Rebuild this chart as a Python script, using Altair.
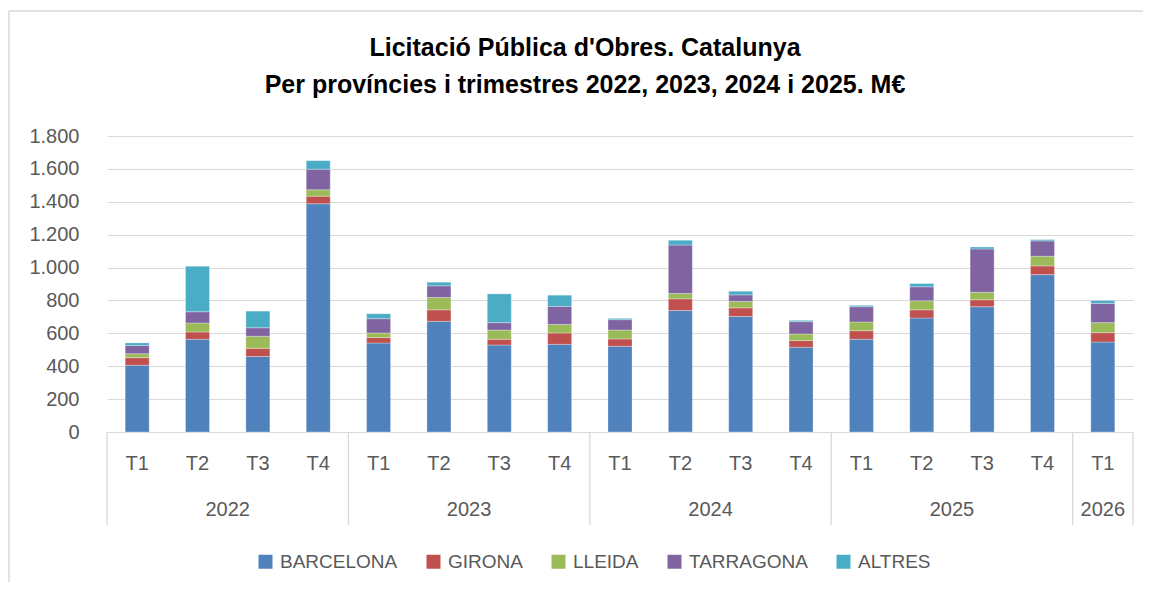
import altair as alt
import pandas as pd

years = ["2022"] * 4 + ["2023"] * 4 + ["2024"] * 4 + ["2025"] * 4 + ["2026"]
quarters = ["T1", "T2", "T3", "T4"] * 4 + ["T1"]
series = ["BARCELONA", "GIRONA", "LLEIDA", "TARRAGONA", "ALTRES"]
colors = ["#4F81BD", "#C0504D", "#9BBB59", "#8064A2", "#4BACC6"]
title_line1 = "Licitació Pública d'Obres. Catalunya"
title_line2 = "Per províncies i trimestres 2022, 2023, 2024 i 2025. M€"

barcelona = [406, 564, 459, 1388, 541, 673, 529, 533, 521, 739, 703, 515, 564, 693, 762, 957, 547]
girona = [46, 44, 50, 46, 33, 70, 35, 69, 45, 71, 52, 41, 52, 50, 42, 53, 57]
lleida = [24, 55, 73, 39, 28, 75, 56, 52, 54, 32, 39, 40, 53, 55, 46, 59, 61]
tarragona = [50, 68, 52, 125, 87, 71, 45, 110, 63, 295, 40, 75, 93, 85, 263, 93, 117]
altres = [16, 277, 101, 52, 30, 22, 175, 68, 8, 29, 22, 8, 8, 20, 12, 8, 18]

values = [barcelona, girona, lleida, tarragona, altres]

rows = []
for s_i, (name, vals) in enumerate(zip(series, values)):
    for i, v in enumerate(vals):
        rows.append({"idx": i, "year": years[i], "quarter": quarters[i],
                     "serie": name, "ord": s_i, "value": v})
df = pd.DataFrame(rows)

cats = pd.DataFrame({"idx": list(range(len(quarters))), "quarter": quarters, "year": years})
year_df = cats.groupby("year", as_index=False).agg(center=("idx", "mean"),
                                                   lo=("idx", "min"), hi=("idx", "max"))
bounds = sorted(set([r - 0.5 for r in year_df["lo"]] + [r + 0.5 for r in year_df["hi"]]))
bounds_df = pd.DataFrame({"b": bounds})

W, H = 1026, 296
FONT = "Liberation Sans"
GREY = "#595959"
n = len(quarters)
xscale = alt.Scale(domain=[-0.5, n - 0.5], nice=False, zero=False, padding=0)

bars = alt.Chart(df).mark_bar(size=24, stroke="#ffffff", strokeWidth=0.6, strokeOpacity=0.5).encode(
    x=alt.X("idx:Q", scale=xscale, axis=None),
    y=alt.Y("sum(value):Q", stack="zero",
            scale=alt.Scale(domain=[0, 1800], nice=False),
            axis=alt.Axis(values=list(range(0, 1801, 200)), title=None,
                          labelExpr="replace(format(datum.value, ','), ',', '.')",
                          grid=True, gridColor="#d9d9d9", gridWidth=1.2,
                          domain=False, ticks=False, labelPadding=28,
                          labelFont=FONT, labelFontSize=20, labelColor=GREY)),
    color=alt.Color("serie:N", scale=alt.Scale(domain=series, range=colors),
                    legend=alt.Legend(title=None, orient="none", direction="horizontal",
                                      columns=5, legendX=149, legendY=416,
                                      symbolType="square", symbolSize=196,
                                      symbolStrokeWidth=0, labelFont=FONT,
                                      labelFontSize=19, labelColor=GREY,
                                      labelOffset=5, columnPadding=26)),
    order=alt.Order("ord:Q"),
)

qlabels = alt.Chart(cats).mark_text(font=FONT, fontSize=20, color=GREY, baseline="middle").encode(
    x=alt.X("idx:Q", scale=xscale), y=alt.value(328), text="quarter:N")

ylabels = alt.Chart(year_df).mark_text(font=FONT, fontSize=20, color=GREY, baseline="middle").encode(
    x=alt.X("center:Q", scale=xscale), y=alt.value(374), text="year:N")

seps = alt.Chart(bounds_df).mark_rule(color="#d9d9d9", strokeWidth=1.3).encode(
    x=alt.X("b:Q", scale=xscale), y=alt.value(H), y2=alt.value(389))

one = alt.Data(values=[{"a": 1}])
frame_top = alt.Chart(one).mark_rule(color="#d9d9d9", strokeWidth=1.5).encode(
    x=alt.value(-98), x2=alt.value(1100), y=alt.value(-125))
frame_left = alt.Chart(one).mark_rule(color="#d9d9d9", strokeWidth=1.5).encode(
    x=alt.value(-98), y=alt.value(-125), y2=alt.value(700))

tstyle = dict(font=FONT, fontSize=25, fontWeight="bold", color="#000000",
              baseline="middle", align="center")
t1 = alt.Chart(one).mark_text(text=title_line1, **tstyle).encode(
    x=alt.value(W / 2 - 35), y=alt.value(-88))
t2 = alt.Chart(one).mark_text(text=title_line2, **tstyle).encode(
    x=alt.value(W / 2 - 35), y=alt.value(-51))

chart = alt.layer(frame_top, frame_left, bars, seps, qlabels, ylabels, t1, t2).properties(
    width=W, height=H,
    autosize=alt.AutoSizeParams(type="none"),
    padding={"left": 99, "top": 128, "right": 10, "bottom": 150},
).configure_view(stroke=None)

chart.save("out.html", embed_options={"renderer": "svg", "actions": False})
